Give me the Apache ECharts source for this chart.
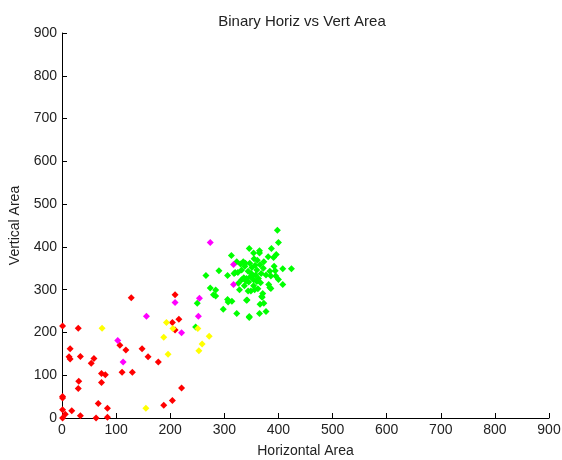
<!DOCTYPE html>
<html><head><meta charset="utf-8">
<script src="https://cdn.jsdelivr.net/npm/echarts@6/dist/echarts.min.js"></script>
<style>html,body{margin:0;padding:0;background:#fff}#c{width:562px;height:460px}</style>
</head><body><div id="c"></div>
<script>
const titleText = "Binary Horiz vs Vert Area";
const xName = "Horizontal Area";
const yName = "Vertical Area";
const xTicks = [0,100,200,300,400,500,600,700,800,900];
const yTicks = [0,100,200,300,400,500,600,700,800,900];

const redX = [1,30,15,13,15,34,54,59,31,30,73,80,73,1,1,1,6,18,1,34,63,67,84,84,128,107,118,111,130,148,159,178,209,204,216,209,221,204,188];
const redY = [215,210,162,143,138,144,128,139,86,69,104,101,83,50,47,19,9,17,0,5,0,34,23,2,281,170,159,107,107,162,143,131,288,223,231,206,70,41,30];

const yellowX = [74,193,205,188,196,155,251,272,259,253];
const yellowY = [210,223,209,189,149,23,209,191,173,157];

const magentaX = [274,156,103,113,209,254,252,221,317,317];
const magentaY = [410,238,181,131,270,280,238,199,359,312];

const greenX = [250,247,266,274,284,280,284,290,298,306,307,314,306,313,323,346,341,365,377,366,373,369,371,398,400,424,408,408,396,387,391,381,346,354,365,365,361,373,335,339,323,332,325,320,344,351,357,360,368,377,392,394,395,384,386,382,384,326,337,344,349,354,354,352,360,367,348,332,341,363,342,370,346,400,386,356,345,338,330,350,358,340,362,372,328,318,355,347,336,366];
const greenY = [268,213,333,304,299,288,285,344,254,277,271,273,333,380,244,237,275,244,249,266,268,284,291,439,410,349,349,312,382,396,375,377,396,386,391,386,369,365,365,362,365,346,340,340,343,352,357,346,338,334,355,344,332,343,332,312,305,315,309,297,297,309,323,332,319,316,330,323,326,326,276,282,235,324,303,300,318,355,360,338,334,320,302,350,300,338,372,362,328,358];

function pts(xs, ys){ return xs.map((x,i)=>[x, ys[i]]); }

const chart = echarts.init(document.getElementById('c'));
const font = "Liberation Sans, Arial, sans-serif";
const mk = (name, xs, ys, color) => ({
  name, type:'scatter', data: pts(xs, ys), symbol:'diamond', symbolSize:7,
  itemStyle:{color, opacity:1}, animation:false
});
chart.setOption({
  animation:false,
  backgroundColor:'#fff',
  title:{text:titleText, left:297, top:9, textAlign:'center',
    textStyle:{fontFamily:font, fontSize:15, fontWeight:'normal', color:'#222'}},
  grid:{left:62, right:13, top:33, bottom:42, containLabel:false, outerBoundsMode:'none'},
  xAxis:{type:'value', min:0, max:900, interval:100, name:xName, nameLocation:'middle', nameGap:26,
    nameTextStyle:{fontFamily:font, fontSize:14, color:'#222'},
    axisLine:{show:true, onZero:false, lineStyle:{color:'#000', width:1}},
    axisTick:{show:true, inside:true, length:5, lineStyle:{color:'#000'}},
    axisLabel:{fontFamily:font, fontSize:14, color:'#222', margin:5, showMaxLabel:true, showMinLabel:true},
    splitLine:{show:false}},
  yAxis:{type:'value', min:0, max:900, interval:100, name:yName, nameLocation:'middle', nameGap:40,
    nameTextStyle:{fontFamily:font, fontSize:14, color:'#222'},
    axisLine:{show:true, onZero:false, lineStyle:{color:'#000', width:1}},
    axisTick:{show:true, inside:true, length:5, lineStyle:{color:'#000'}},
    axisLabel:{fontFamily:font, fontSize:14, color:'#222', margin:5},
    splitLine:{show:false}},
  series:[
    mk('green', greenX, greenY, '#00ff00'),
    mk('red', redX, redY, '#ff0000'),
    mk('yellow', yellowX, yellowY, '#ffff00'),
    mk('magenta', magentaX, magentaY, '#ff00ff')
  ]
});
</script></body></html>
